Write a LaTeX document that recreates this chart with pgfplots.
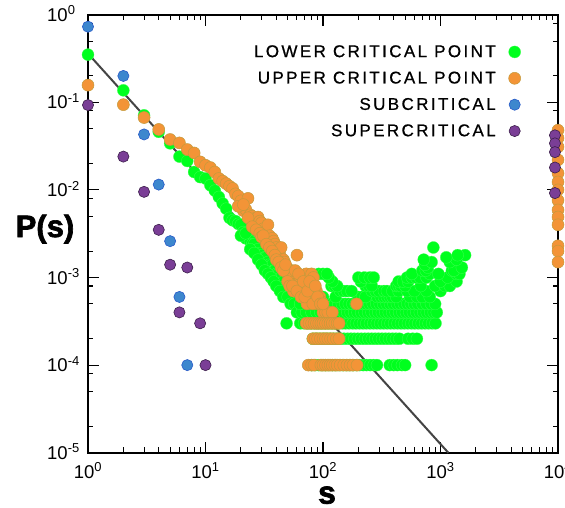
\documentclass[border=0pt]{standalone}
\usepackage{fontspec}
\setmainfont{Liberation Sans}
\newfontfamily\legfont[LetterSpace=14,FakeBold=0.8]{Liberation Sans}
\newfontfamily\heavyfont[BoldFeatures={FakeBold=2}]{Liberation Sans}
\usepackage{pgfplots}
\pgfplotsset{compat=1.18}
\definecolor{gr}{RGB}{0,255,30}
\definecolor{grl}{RGB}{60,255,80}
\definecolor{orf}{RGB}{243,148,55}
\definecolor{ore}{RGB}{195,155,60}
\definecolor{blf}{RGB}{61,135,206}
\definecolor{ble}{RGB}{40,90,200}
\definecolor{puf}{RGB}{122,62,150}
\definecolor{pue}{RGB}{60,30,75}
\definecolor{ln}{RGB}{68,68,68}
\pgfplotsset{dotleg/.style={legend image code/.code={\draw[##1] plot coordinates {(0pt,0pt)};}}}
\begin{document}
\begin{tikzpicture}
\begin{axis}[
  at={(0pt,0pt)}, anchor=south west,
  width=470pt, height=438pt, scale only axis,
  xmode=log, ymode=log,
  xmin=1, xmax=10000, ymin=1e-5, ymax=1,
  xtick={1,10,100,1000,10000},
  xticklabels={10\textsuperscript{0},10\textsuperscript{1},10\textsuperscript{2},10\textsuperscript{3},10\textsuperscript{4}},
  ytick={1,0.1,0.01,0.001,0.0001,0.00001},
  yticklabels={10\textsuperscript{0},10\textsuperscript{-1},10\textsuperscript{-2},10\textsuperscript{-3},10\textsuperscript{-4},10\textsuperscript{-5}},
  minor xtick={2,3,4,5,6,7,8,9,20,30,40,50,60,70,80,90,200,300,400,500,600,700,800,900,2000,3000,4000,5000,6000,7000,8000,9000},
  minor ytick={0.8,0.5,0.2,0.08,0.05,0.02,0.008,0.005,0.002,0.0008,0.0005,0.0002,0.00008,0.00005,0.00002},
  tick align=inside,
  major tick length=11pt, minor tick length=5.5pt,
  every tick/.style={black, line width=1.1pt},
  axis line style={line width=1.8pt, black},
  xticklabel style={font=\fontsize{18.5}{18.5}\selectfont, inner sep=0pt, anchor=base, yshift=-25.3pt},
  yticklabel style={font=\fontsize{18.5}{18.5}\selectfont, inner sep=0pt, anchor=base west, xshift=-41pt, yshift=-6.5pt},
  xlabel={\heavyfont\bfseries\fontsize{32}{32}\selectfont s},
  ylabel={\heavyfont\bfseries\fontsize{31}{31}\selectfont P(s)},
  every axis x label/.style={at={(axis description cs:0.5085,-0.097)}, anchor=center},
  every axis y label/.style={at={(axis description cs:-0.0915,0.5107)}, anchor=center},
  clip=false,
  legend style={draw=none, fill=none, inner sep=0pt, at={(axis description cs:0.921,0.933)}, anchor=north east,
    font=\legfont\fontsize{17}{17}\selectfont, row sep=11pt, column sep=13pt, nodes={inner ysep=1pt, inner xsep=0pt}},
  legend cell align=right,
  legend plot pos=right,
]
% lower critical point
\addplot[only marks, mark=*, mark size=6pt, mark options={fill=gr, draw=grl, line width=0.3pt}, dotleg] coordinates {
(1,0.35)(2,0.137)(3,0.071)(4,0.046)(5,0.034)(6,0.024)(7,0.0214)(8,0.016)(9,0.014)(10,0.0135)(11,0.0113)(12,0.0098)(13,0.0083)(14,0.0070)(15,0.0061)(16,0.0048)(17,0.0045)(18,0.0044)(19,0.0041)(20,0.0040)(21,0.0033)(22,0.0028)(23,0.0030)(24,0.0026)(25,0.0024)(26,0.0024)(27,0.0020)(28,0.0021)(29,0.0019)(30,0.0018)(31,0.0016)(32,0.0017)(33,0.0017)(34,0.0015)(35,0.0014)(36,0.0013)(37,0.0014)(38,0.0012)(39,0.0012)(40,0.0011)(41,0.0010)(42,0.0011)(43,0.0009)(44,0.0010)(45,0.0008)(46,0.0009)(47,0.0007)(48,0.0008)(49,0.0003)(50,0.0008)(52,0.00085)(54,0.0007)(56,0.0006)(58,0.0007)(60,0.0006)(62,0.0005)(64,0.0006)(66,0.0004)(68,0.0005)(70,0.0004)(72,0.0004)(75,0.0005)(78,0.0004)
(20,0.0030)(22,0.0032)(24,0.0021)(26,0.0019)(28,0.0016)(30,0.0014)(32,0.0012)(34,0.0011)(36,0.0010)(38,0.0009)(40,0.0008)(43,0.0007)(46,0.0006)(50,0.0006)(53,0.0005)(57,0.0005)(60,0.0004)
(80,1e-4)(86,1e-4)(92,1e-4)(98,1e-4)(105,1e-4)(112,1e-4)(120,1e-4)(128,1e-4)(137,1e-4)(147,1e-4)(157,1e-4)(168,1e-4)(180,1e-4)(192,1e-4)(205,1e-4)(220,1e-4)(235,1e-4)(252,1e-4)(270,1e-4)(288,1e-4)(370,1e-4)(400,1e-4)(430,1e-4)(470,1e-4)(500,1e-4)(840,1e-4)
(82,2e-4)(88,2e-4)(94,2e-4)(101,2e-4)(108,2e-4)(115,2e-4)(123,2e-4)(132,2e-4)(141,2e-4)(151,2e-4)(162,2e-4)(173,2e-4)(185,2e-4)(198,2e-4)(212,2e-4)(227,2e-4)(243,2e-4)(260,2e-4)(278,2e-4)(297,2e-4)(318,2e-4)(340,2e-4)(364,2e-4)(390,2e-4)(418,2e-4)(447,2e-4)(530,2e-4)(580,2e-4)(630,2e-4)
(64,3e-4)(69,3e-4)(74,3e-4)(79,3e-4)(85,3e-4)(91,3e-4)(97,3e-4)(104,3e-4)(111,3e-4)(119,3e-4)(127,3e-4)(136,3e-4)(146,3e-4)(156,3e-4)(167,3e-4)(179,3e-4)(191,3e-4)(205,3e-4)(219,3e-4)(234,3e-4)(251,3e-4)(268,3e-4)(287,3e-4)(307,3e-4)(329,3e-4)(352,3e-4)(376,3e-4)(403,3e-4)(431,3e-4)(461,3e-4)(493,3e-4)(528,3e-4)(565,3e-4)(604,3e-4)(647,3e-4)(692,3e-4)(740,3e-4)(792,3e-4)(848,3e-4)(907,3e-4)
(66,4e-4)(72,4e-4)(80,4e-4)(88,4e-4)(95,4e-4)(103,4e-4)(112,4e-4)(121,4e-4)(130,4e-4)(140,4e-4)(150,4e-4)(161,4e-4)(172,4e-4)(184,4e-4)(197,4e-4)(211,4e-4)(226,4e-4)(242,4e-4)(259,4e-4)(277,4e-4)(296,4e-4)(317,4e-4)(339,4e-4)(363,4e-4)(388,4e-4)(415,4e-4)(444,4e-4)(475,4e-4)(508,4e-4)(544,4e-4)(582,4e-4)(623,4e-4)(667,4e-4)(714,4e-4)(764,4e-4)(818,4e-4)(875,4e-4)(930,4e-4)
(64,5e-4)(75,5e-4)(110,5e-4)(118,5e-4)(126,5e-4)(135,5e-4)(145,5e-4)(155,5e-4)(166,5e-4)(178,5e-4)(190,5e-4)(203,5e-4)(217,5e-4)(232,5e-4)(248,5e-4)(265,5e-4)(284,5e-4)(304,5e-4)(325,5e-4)(348,5e-4)(372,5e-4)(398,5e-4)(426,5e-4)(456,5e-4)(488,5e-4)(522,5e-4)(559,5e-4)(598,5e-4)(640,5e-4)(700,5e-4)(760,5e-4)(830,5e-4)(900,5e-4)
(85,6e-4)(92,6e-4)(100,6e-4)(128,6e-4)(200,6e-4)(215,6e-4)(230,6e-4)(290,6e-4)(310,6e-4)(330,6e-4)(350,6e-4)(370,6e-4)(390,6e-4)(420,6e-4)(550,6e-4)(630,6e-4)(700,6e-4)(810,6e-4)
(140,7e-4)(150,7e-4)(160,7e-4)(175,7e-4)(260,7e-4)(280,7e-4)(300,7e-4)(330,7e-4)(350,7e-4)(390,7e-4)(440,7e-4)(520,7e-4)(600,7e-4)(760,7e-4)(1000,7e-4)
(118,8e-4)(125,8e-4)(132,8e-4)(230,8e-4)(245,8e-4)(260,8e-4)(420,8e-4)(440,8e-4)(460,8e-4)(500,8e-4)(680,8e-4)(900,8e-4)(1090,8e-4)(1200,8e-4)
(120,9e-4)(210,9e-4)(440,9e-4)(480,9e-4)(530,9e-4)(1000,9e-4)(1370,9e-4)
(112,1e-3)(200,1e-3)(225,1e-3)(250,1e-3)(270,1e-3)(520,1e-3)(570,1e-3)(620,1e-3)(670,1e-3)(760,1e-3)(1150,1e-3)
(92,1.1e-3)(100,1.1e-3)(108,1.1e-3)(570,1.1e-3)(810,1.1e-3)(960,1.1e-3)(1370,1.1e-3)(1450,1.1e-3)
(700,1.2e-3)(750,1.2e-3)(1250,1.2e-3)(1300,1.2e-3)(780,1.3e-3)(1520,1.3e-3)(740,1.4e-3)(840,1.5e-3)(1200,1.5e-3)
(720,1.6e-3)(1370,1.6e-3)(1120,1.7e-3)(1620,1.8e-3)(1400,1.8e-3)(870,2.2e-3)
};
\addlegendentry{LOWER CRITICAL POINT}
% upper critical point
\addplot[only marks, mark=*, mark size=6pt, mark options={fill=orf, draw=ore, line width=0.5pt}, dotleg] coordinates {
(1,0.157)(2,0.094)(3,0.067)(4,0.049)(5,0.0376)(6,0.0344)(7,0.0289)(8,0.0264)(9,0.0209)(10,0.0191)(11,0.018)(12,0.016)(13,0.0135)(14,0.0126)(15,0.0118)(16,0.0110)(17,0.0104)(18,0.0090)(19,0.0085)(20,0.0075)(21,0.0058)(22,0.0060)(23,0.0080)(24,0.0052)(25,0.0050)(26,0.0047)(27,0.0045)(28,0.0049)(29,0.0044)(30,0.0042)(31,0.0036)(32,0.0027)(33,0.0031)(34,0.0040)(35,0.0030)(36,0.0021)(37,0.0028)(38,0.0026)(39,0.0024)(40,0.0022)(41,0.0019)(42,0.0020)(43,0.0018)(44,0.0022)(45,0.0014)(46,0.0016)(47,0.0015)(48,0.0012)(49,0.0013)(50,0.0011)(52,0.0012)(54,0.0012)(55,0.0010)(56,0.0007)(58,0.0009)(60,0.0018)(62,0.0009)(64,0.0010)(66,0.0008)(68,0.0007)(70,0.0009)(72,0.0011)(73,0.0005)(75,0.0007)(76,0.0006)(78,0.0008)(80,0.0011)(83,0.0010)(85,0.0006)(88,0.0007)(90,0.0005)(94,0.0006)(97,0.00053)(100,0.0004)(105,0.0004)(110,0.0004)(120,0.0004)(193,0.0005)
(19,0.0065)(21,0.0068)(23,0.0048)(25,0.0038)(27,0.0035)(29,0.0032)(30,0.0029)(31,0.0030)(33,0.0024)(35,0.0022)(37,0.0020)(39,0.0018)(40,0.0016)(42,0.0015)(44,0.0013)(46,0.0012)(48,0.0014)(50,0.0009)(52,0.0008)(55,0.0008)(58,0.0012)(60,0.0007)(62,0.0011)(65,0.0006)(68,0.0009)(70,0.0006)(74,0.0007)(77,0.0009)(82,0.0005)(86,0.0008)(90,0.0006)(95,0.0005)(100,0.0005)
(72,3e-4)(76,3e-4)(80,3e-4)(84,3e-4)(88,3e-4)(92,3e-4)(96,3e-4)(100,3e-4)(105,3e-4)(110,3e-4)(115,3e-4)(120,3e-4)(126,3e-4)(132,3e-4)(137,3e-4)
(82,2e-4)(86,2e-4)(90,2e-4)(95,2e-4)(100,2e-4)(105,2e-4)(110,2e-4)(116,2e-4)(122,2e-4)(130,2e-4)(137,2e-4)
(75,1e-4)(80,1e-4)(84,1e-4)(96,1e-4)(100,1e-4)(105,1e-4)(110,1e-4)(115,1e-4)(120,1e-4)(126,1e-4)(132,1e-4)(140,1e-4)(150,1e-4)(160,1e-4)(170,1e-4)(180,1e-4)(195,1e-4)
(10000,0.048)(10000,0.039)(10000,0.031)(10000,0.022)(10000,0.0155)(10000,0.0123)(10000,0.010)(10000,0.0076)(10000,0.0059)(10000,0.0049)(10000,0.0040)(10000,0.0023)(10000,0.0020)(10000,0.0015)
};
\addlegendentry{UPPER CRITICAL POINT}
% subcritical
\addplot[only marks, mark=*, mark size=5.6pt, mark options={fill=blf, draw=ble, line width=0.6pt}, dotleg] coordinates {
(1,0.73)(2,0.20)(3,0.043)(4,0.0115)(5,0.0026)(6,0.0006)(7,0.0001)
};
\addlegendentry{SUBCRITICAL}
% supercritical
\addplot[only marks, mark=*, mark size=5.6pt, mark options={fill=puf, draw=pue, line width=0.6pt}, dotleg] coordinates {
(1,0.093)(2,0.024)(3,0.0095)(4,0.0035)(5,0.0014)(6,0.0004)(7,0.0013)(9,0.0003)(10,0.0001)
(9420,0.042)(9420,0.034)(9420,0.027)(9420,0.018)(9420,0.0092)
};
\addlegendentry{SUPERCRITICAL}
% power-law fit
\addplot[ln, line width=2pt, forget plot] coordinates {(1,0.36)(1165,1e-5)};
\end{axis}
\pgfresetboundingbox
\path[use as bounding box] (-88pt,-55.3pt) rectangle (477pt,452.7pt);
\end{tikzpicture}
\end{document}
